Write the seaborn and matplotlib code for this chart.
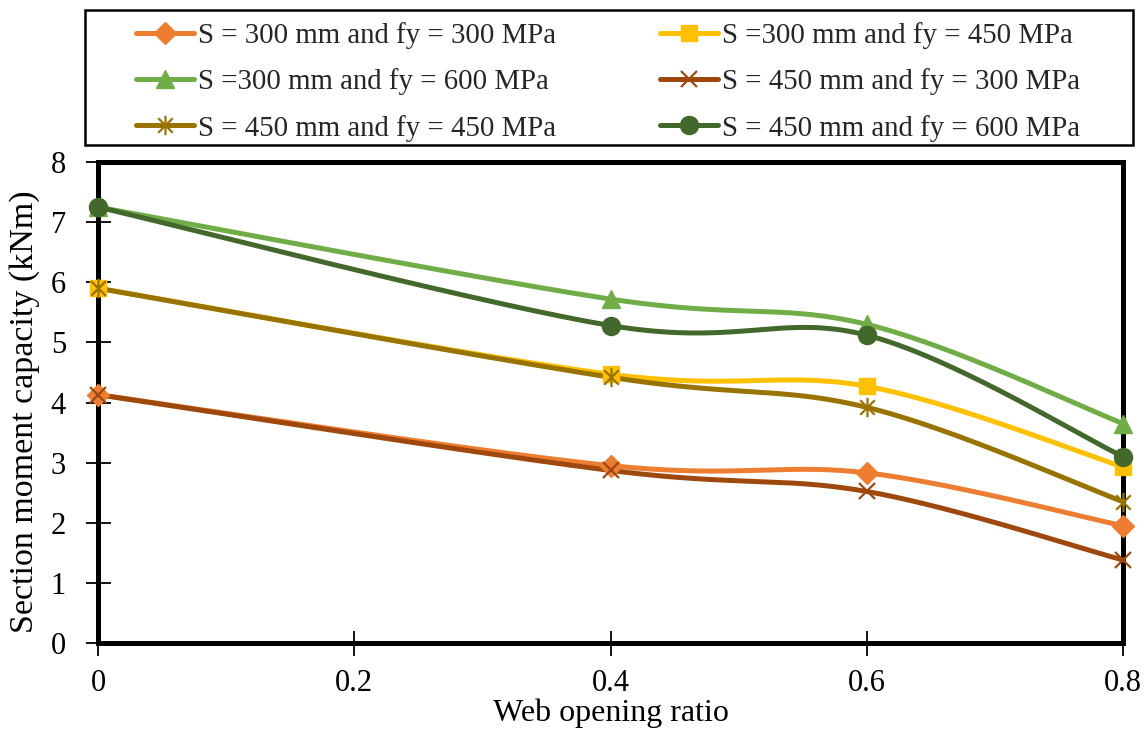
import numpy as np
import pandas as pd
import matplotlib
matplotlib.use("Agg")
import matplotlib.pyplot as plt
import seaborn as sns
from matplotlib.lines import Line2D
from matplotlib.patches import Rectangle
from matplotlib.path import Path

# ---- data ----
opening_ratio = [0.0, 0.4, 0.6, 0.8]
s300_fy300 = [4.13, 2.95, 2.83, 1.95]
s300_fy450 = [5.90, 4.47, 4.27, 2.93]
s300_fy600 = [7.25, 5.72, 5.30, 3.65]
s450_fy300 = [4.13, 2.87, 2.52, 1.38]
s450_fy450 = [5.90, 4.42, 3.92, 2.35]
s450_fy600 = [7.25, 5.28, 5.12, 3.10]

labels = [
    "S = 300 mm and fy = 300 MPa",
    "S =300 mm and fy = 450 MPa",
    "S =300 mm and fy = 600 MPa",
    "S = 450 mm and fy = 300 MPa",
    "S = 450 mm and fy = 450 MPa",
    "S = 450 mm and fy = 600 MPa",
]
values = [s300_fy300, s300_fy450, s300_fy600, s450_fy300, s450_fy450, s450_fy600]
colors = ["#ED7D31", "#FFC000", "#70AD47", "#9E480E", "#997300", "#43682B"]

# asterisk marker: vertical bar plus a cross
star_path = Path(
    [(0, -1), (0, 1), (-0.75, -0.75), (0.75, 0.75), (-0.75, 0.75), (0.75, -0.75)],
    [Path.MOVETO, Path.LINETO, Path.MOVETO, Path.LINETO, Path.MOVETO, Path.LINETO],
)
markers = ["D", "s", "^", "x", star_path, "o"]
msizes = [11, 12, 13, 12, 14, 13]
edge_widths = [1.0, 1.0, 1.0, 1.6, 1.6, 1.0]

rows = []
for lab, vals in zip(labels, values):
    for x, y in zip(opening_ratio, vals):
        rows.append({"ratio": x, "capacity": y, "series": lab})
df = pd.DataFrame(rows)


def smooth_curve(xs, ys, n=60):
    """Cardinal (Catmull-Rom) bezier smoothing through the given points."""
    p = np.column_stack([xs, ys]).astype(float)
    pad = np.vstack([p[0], p, p[-1]])
    out = []
    t = np.linspace(0, 1, n)[:, None]
    for i in range(len(p) - 1):
        p0, p1, p2, p3 = pad[i], pad[i + 1], pad[i + 2], pad[i + 3]
        b1 = p1 + (p2 - p0) / 6.0
        b2 = p2 - (p3 - p1) / 6.0
        seg = ((1 - t) ** 3) * p1 + 3 * ((1 - t) ** 2) * t * b1 + 3 * (1 - t) * t ** 2 * b2 + t ** 3 * p2
        out.append(seg if i == 0 else seg[1:])
    c = np.vstack(out)
    return c[:, 0], c[:, 1]


sns.set_theme(style="white")
plt.rcParams["font.family"] = ["Liberation Serif", "DejaVu Serif"]

W, H = 1148, 731
fig = plt.figure(figsize=(W / 100, H / 100), dpi=100)
ax = fig.add_axes([98 / W, 1 - 643 / H, (1123 - 98) / W, (643 - 162) / H])

handles = []
for lab, col, mk, ms, mew in zip(labels, colors, markers, msizes, edge_widths):
    sub = df[df["series"] == lab]
    sx, sy = smooth_curve(sub["ratio"].values, sub["capacity"].values)
    sns.lineplot(x=sx, y=sy, ax=ax, color=col, linewidth=3.6, sort=False,
                 estimator=None, zorder=5, clip_on=False)
    ax.plot(sub["ratio"], sub["capacity"], linestyle="none", marker=mk,
            markersize=ms, color=col, markeredgecolor=col, markeredgewidth=mew,
            zorder=6, clip_on=False)
    handles.append(Line2D([0], [0], color=col, linewidth=3.6, marker=mk,
                          markersize=ms, markeredgecolor=col, markeredgewidth=mew))

ax.set_xlim(0, 0.8)
ax.set_ylim(0, 8)
ax.set_xticks([0, 0.2, 0.4, 0.6, 0.8])
ax.set_xticklabels(["0", "0.2", "0.4", "0.6", "0.8"])
ax.set_yticks(range(0, 9))
ax.tick_params(axis="both", which="both", direction="inout", length=18, width=1.3,
               color="black", labelsize=22, labelcolor="black",
               bottom=True, left=True)
ax.tick_params(axis="x", pad=10)
ax.tick_params(axis="y", pad=14)
for sp in ax.spines.values():
    sp.set_visible(True)
    sp.set_color("black")
    sp.set_linewidth(3.6)
ax.set_xlabel("Web opening ratio", fontsize=23, color="black", labelpad=0)
ax.set_ylabel("Section moment capacity (kNm)", fontsize=24.5, color="black")
ax.yaxis.set_label_coords(-0.057, 0.48)
ax.grid(False)

# legend above the plot, framed by a rectangle; entries read row by row
fig.patches.append(Rectangle((85 / W, 1 - 145 / H), (1133 - 85) / W, (145 - 10) / H,
                             transform=fig.transFigure, fill=False,
                             edgecolor="black", linewidth=1.8))
order = [0, 2, 4, 1, 3, 5]
fig.legend([handles[i] for i in order], [labels[i] for i in order], ncol=2,
           loc="center", bbox_to_anchor=(608 / W, 1 - 82 / H), frameon=False,
           fontsize=20.8, handlelength=2.0, handletextpad=0.15,
           columnspacing=3.6, labelspacing=0.66)

fig.savefig("out.png", dpi=100, facecolor="white")
